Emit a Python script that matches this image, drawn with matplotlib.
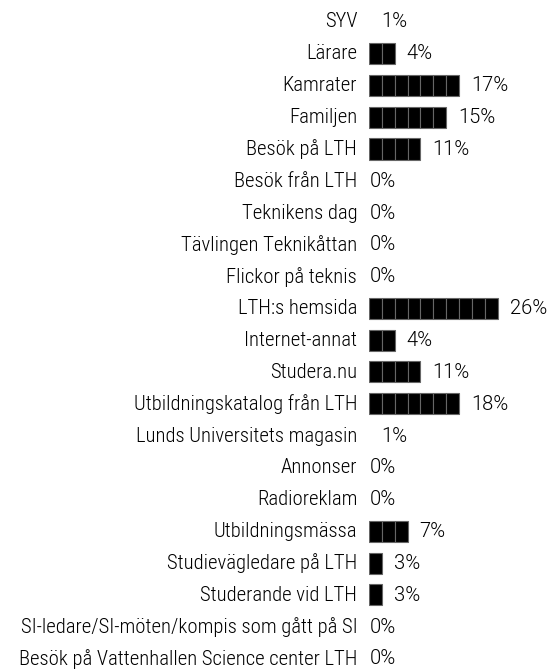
import matplotlib as mpl
from matplotlib import pyplot as plt
from matplotlib import font_manager
import numpy as np

categories = ["SYV", "Lärare", "Kamrater", "Familjen", "Besök på LTH", "Besök från LTH",
              "Teknikens dag", "Tävlingen Teknikåttan", "Flickor på teknis", "LTH:s hemsida",
              "Internet-annat", "Studera.nu", "Utbildningskatalog från LTH",
              "Lunds Universitets magasin", "Annonser", "Radioreklam", "Utbildningsmässa",
              "Studievägledare på LTH", "Studerande vid LTH",
              "SI-ledare/SI-möten/kompis som gått på SI",
              "Besök på Vattenhallen Science center LTH"]
values = [1, 4, 17, 15, 11, 0, 0, 0, 0, 26, 4, 11, 18, 1, 0, 0, 7, 3, 3, 0, 0]

# look for a narrow font, fall back to regular Liberation Sans
fonts = font_manager.fontManager.ttflist
label_font, label_stretch = "Liberation Sans", "normal"
for fam in ["Liberation Sans Narrow", "Arial Narrow", "Roboto Condensed",
            "DejaVu Sans Condensed", "Open Sans Condensed", "Noto Sans Condensed"]:
    if any(f.name == fam for f in fonts):
        label_font = fam
        break
else:
    for fam in ["Roboto", "Noto Sans", "Open Sans", "DejaVu Sans"]:
        hit = [f for f in fonts if f.name == fam and f.weight in (400, "normal")
               and f.stretch in ("condensed", "semi-condensed")]
        if hit:
            label_font, label_stretch = fam, hit[0].stretch
            break

W, H = 548, 671
fig = plt.figure(figsize=(W / 100, H / 100), dpi=100)

# pictogram: each block is a tenth of the largest value
block_px = 12.86
bar_left = 369
ax = fig.add_axes([bar_left / W, 0, (W - bar_left) / W, 1])
n = len(categories)
row_px = 31.85
first_px, last_px = 20, 657
ax.set_ylim(n - 1 + (H - last_px) / row_px, -first_px / row_px)
ax.set_xlim(0, (W - bar_left) / block_px)

vmax = max(values)
blocks = [int(round(v / vmax * 10)) for v in values]
for i, (v, b) in enumerate(zip(values, blocks)):
    if b > 0:
        ax.barh([i + 0.05] * b, 1, left=np.arange(b), height=0.66,
                color="black", edgecolor="#666666", linewidth=0.8)
    off = 12 if v > 0 else 1
    ax.text(b, i, f"{v}%", ha="left", va="center_baseline", fontsize=14.5,
            family="Roboto", weight=300,
            transform=ax.transData + mpl.transforms.ScaledTranslation(off / 100, 0, fig.dpi_scale_trans))

# size the labels so the longest one is about as wide as in the original
r = fig.canvas.get_renderer()
t = fig.text(0, 0, categories[-1], fontsize=14, family=label_font,
             stretch=label_stretch, weight=300)
w = t.get_window_extent(r).width
t.remove()
label_size = min(15.0, 14 * 338 / w)

ax.set_yticks(range(n))
ax.set_yticklabels(categories, fontsize=label_size, family=label_font,
                   stretch=label_stretch, weight=300)
ax.tick_params(axis="y", length=0, pad=8.5)
ax.set_xticks([])
for s in ax.spines.values():
    s.set_visible(False)
ax.patch.set_alpha(0)

fig.savefig("out.png", dpi=100)
